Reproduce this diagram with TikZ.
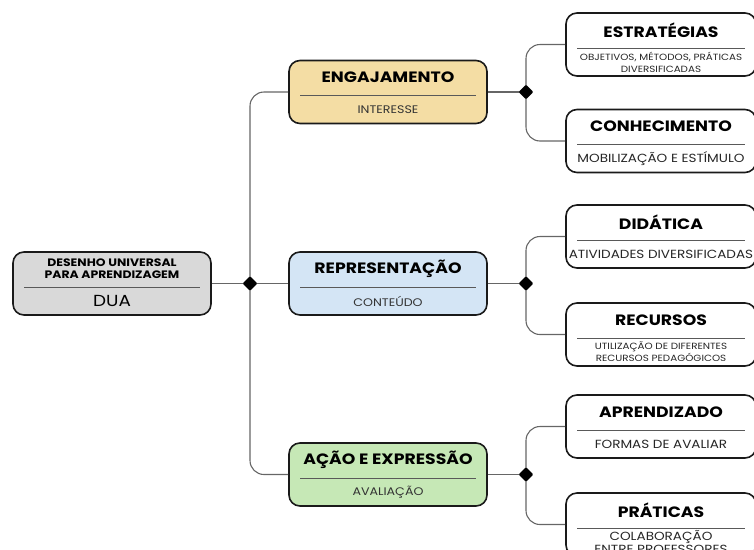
\documentclass[tikz,border=0pt]{standalone}
\usepackage{fontspec}
\setmainfont{Poppins}[FakeStretch=1.15]
\usetikzlibrary{shapes.geometric}

\newlength{\du}
\setlength{\du}{1pt}

\definecolor{duagray}{RGB}{217,217,217}
\definecolor{engtan}{RGB}{244,221,164}
\definecolor{repblue}{RGB}{212,229,245}
\definecolor{acaogreen}{RGB}{198,232,182}
\definecolor{linegray}{RGB}{102,102,102}
\definecolor{boxline}{RGB}{26,26,26}

\tikzset{
  mapbox/.style={draw=boxline, line width=1.6\du, rounded corners=11\du,
    minimum height=63\du, inner sep=0pt},
  divider/.style={draw=black!65, line width=1\du},
  duatitle/.style={font=\bfseries\fontsize{10.8}{12}\selectfont, align=center, inner sep=0pt},
  duasub/.style={font=\fontsize{16}{18}\selectfont, inner sep=0pt},
  midtitle/.style={font=\bfseries\fontsize{15}{17}\selectfont, inner sep=0pt},
  midsub/.style={font=\fontsize{11}{12}\selectfont, text=black!80, inner sep=0pt},
  sidetitle/.style={font=\bfseries\fontsize{15}{17}\selectfont, inner sep=0pt},
  sidesub/.style={font=\fontsize{11.8}{13}\selectfont, text=black!85, align=center, inner sep=0pt},
  sidesmall/.style={font=\fontsize{9}{12}\selectfont, text=black!85, align=center, inner sep=0pt},
  branch/.style={draw=linegray, line width=1.1\du, rounded corners=14\du},
  junction/.style={diamond, fill=black, inner sep=0pt, rounded corners=1\du,
    minimum width=15\du, minimum height=15\du}
}

% box with title, divider and subtitle
\newcommand{\mapnode}[9]{%
  \node[mapbox, fill=#5, minimum width=#4\du] (#1) at (#2,#3) {};
  \node[#6] (#1-title) at (#2,#3-14.5) {#7};
  \draw[divider] (#2-#4/2+11,#3+3.5) -- (#2+#4/2-11,#3+3.5);
  \node[#8] (#1-sub) at (#2,#3+17.5) {#9};
}

\begin{document}
\begin{tikzpicture}[x=\du,y=-\du]
\useasboundingbox (0,0) rectangle (754,549);

\coordinate (j0) at (250,283.5);
\coordinate (j1) at (526,92);
\coordinate (j2) at (526,283.5);
\coordinate (j3) at (526,474.5);

\mapnode{dua}{112}{283.5}{198}{duagray}{duatitle}{DESENHO UNIVERSAL\\PARA APRENDIZAGEM}{duasub}{DUA}
\mapnode{eng}{388}{92}{198}{engtan}{midtitle}{ENGAJAMENTO}{midsub}{INTERESSE}
\mapnode{rep}{388}{283.5}{198}{repblue}{midtitle}{REPRESENTAÇÃO}{midsub}{CONTEÚDO}
\mapnode{acao}{388}{474.5}{198}{acaogreen}{midtitle}{AÇÃO E EXPRESSÃO}{midsub}{AVALIAÇÃO}

\mapnode{estr}{661}{44.5}{190}{white}{sidetitle}{ESTRATÉGIAS}{sidesmall}{OBJETIVOS, MÉTODOS, PRÁTICAS\\DIVERSIFICADAS}
\mapnode{conh}{661}{141}{190}{white}{sidetitle}{CONHECIMENTO}{sidesub}{MOBILIZAÇÃO E ESTÍMULO}
\mapnode{did}{661}{236.5}{190}{white}{sidetitle}{DIDÁTICA}{sidesub}{ATIVIDADES DIVERSIFICADAS}
\mapnode{rec}{661}{334.5}{190}{white}{sidetitle}{RECURSOS}{sidesmall}{UTILIZAÇÃO DE DIFERENTES\\RECURSOS PEDAGÓGICOS}
\mapnode{apr}{661}{426.5}{190}{white}{sidetitle}{APRENDIZADO}{sidesub}{FORMAS DE AVALIAR}
\mapnode{prat}{661}{524.5}{190}{white}{sidetitle}{PRÁTICAS}{sidesub}{COLABORAÇÃO\\ENTRE PROFESSORES}

% connectors
\draw[branch] (dua.east) -- (rep.west);
\draw[branch] (eng.west) -| (j0) |- (acao.west);
\draw[branch] (eng.east) -- (j1);
\draw[branch] (estr.west) -| (j1) |- (conh.west);
\draw[branch] (rep.east) -- (j2);
\draw[branch] (did.west) -| (j2) |- (rec.west);
\draw[branch] (acao.east) -- (j3);
\draw[branch] (apr.west) -| (j3) |- (prat.west);

\node[junction] (j0-dot) at (j0) {};
\node[junction] (j1-dot) at (j1) {};
\node[junction] (j2-dot) at (j2) {};
\node[junction] (j3-dot) at (j3) {};
\end{tikzpicture}
\end{document}
